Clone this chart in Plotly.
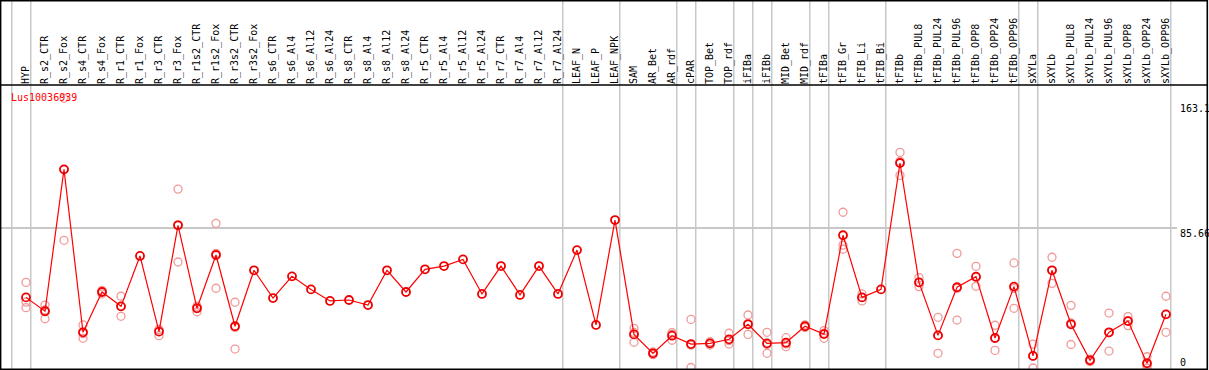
import plotly.graph_objects as go

categories = ["HYP", "R_s2_CTR", "R_s2_Fox", "R_s4_CTR", "R_s4_Fox", "R_r1_CTR", "R_r1_Fox",
              "R_r3_CTR", "R_r3_Fox", "R_r1s2_CTR", "R_r1s2_Fox", "R_r3s2_CTR", "R_r3s2_Fox",
              "R_s6_CTR", "R_s6_Al4", "R_s6_Al12", "R_s6_Al24", "R_s8_CTR", "R_s8_Al4", "R_s8_Al12",
              "R_s8_Al24", "R_r5_CTR", "R_r5_Al4", "R_r5_Al12", "R_r5_Al24", "R_r7_CTR", "R_r7_Al4",
              "R_r7_Al12", "R_r7_Al24", "LEAF_N", "LEAF_P", "LEAF_NPK", "SAM", "AR_Bet", "AR_rdf",
              "cPAR", "TOP_Bet", "TOP_rdf", "iFIBa", "iFIBb", "MID_Bet", "MID_rdf", "tFIBa",
              "tFIB_Gr", "tFIB_Li", "tFIB_Bi", "tFIBb", "tFIBb_PUL8", "tFIBb_PUL24", "tFIBb_PUL96",
              "tFIBb_OPP8", "tFIBb_OPP24", "tFIBb_OPP96", "sXYLa", "sXYLb", "sXYLb_PUL8",
              "sXYLb_PUL24", "sXYLb_PUL96", "sXYLb_OPP8", "sXYLb_OPP24", "sXYLb_OPP96"]

means = [43.3, 34.8, 121.8, 21.9, 46.6, 37.8, 68.7, 22.3, 87.5, 36.6, 69.3, 25.6, 59.9,
         42.9, 56.2, 48.2, 41.1, 41.7, 38.6, 59.9, 46.6, 60.5, 62.5, 66.6, 45.4, 62.5, 44.8,
         62.5, 45.4, 72.3, 26.4, 90.7, 20.6, 9.0, 19.8, 14.7, 15.1, 17.6, 26.8, 15.1, 15.5,
         25.6, 20.8, 81.4, 43.3, 48.2, 125.7, 52.5, 20.0, 49.5, 56.0, 18.4, 49.9, 7.4, 59.9,
         26.8, 4.7, 21.9, 28.8, 2.9, 32.9]

replicates = [
    [52.5, 40.4, 37.0], [38.6, 35.6, 30.2], [165.4, 121.7, 78.3], [26.4, 21.1, 18.2],
    [47.6, 46.8, 45.4], [44.0, 37.7, 31.7], [], [23.6, 23.5, 19.8], [109.7, 87.8, 65.0],
    [38.0, 37.3, 34.5], [88.7, 70.3, 48.9], [40.3, 24.9, 11.6],
    [], [], [], [], [], [], [], [], [], [], [], [], [], [], [], [], [], [], [], [],
    [24.3, 21.8, 15.8], [9.8, 9.0, 8.2], [21.7, 20.7, 17.0], [29.8, 14.0, 0.3],
    [16.1, 15.1, 14.1], [21.3, 16.8, 14.7], [32.5, 27.3, 20.6], [21.9, 14.4, 9.0],
    [18.6, 14.8, 13.1], [26.4, 25.6, 24.8], [22.9, 21.3, 18.2], [95.5, 75.4, 72.8],
    [45.4, 43.3, 41.1], [], [132.2, 126.8, 118.1], [55.4, 52.3, 49.9], [31.1, 20.0, 9.0],
    [70.3, 48.8, 29.4], [62.3, 55.6, 50.1], [26.2, 18.2, 10.8], [64.4, 48.7, 36.6],
    [14.7, 7.5, 0.0], [67.9, 59.9, 51.9], [38.4, 27.6, 14.4], [5.5, 4.7, 3.9],
    [33.7, 21.6, 10.4], [31.5, 28.9, 26.0], [6.9, 1.8, 0.0], [44.0, 32.8, 21.9]]

# group separators drawn after these category indices
separators_after = [-1, 0, 28, 31, 34, 35, 37, 38, 39, 41, 42, 45, 52, 53, 60]

y_labels = [163.1, 85.66, 0]
y_label_text = ["163.1", "85.66", "0"]
title = "Lus10036939"

W, H = 1209, 370
FONT = "DejaVu Sans Mono"
x = list(range(len(categories)))

rep_x, rep_y = [], []
for i, reps in enumerate(replicates):
    for v in reps:
        rep_x.append(i)
        rep_y.append(v)

fig = go.Figure()
fig.add_trace(go.Scatter(x=rep_x, y=rep_y, mode="markers",
                         marker=dict(symbol="circle-open", size=8, color="#f09a9a",
                                     line=dict(width=1.3, color="#f09a9a")),
                         hoverinfo="skip", showlegend=False, cliponaxis=False))
fig.add_trace(go.Scatter(x=x, y=means, mode="lines+markers",
                         line=dict(color="#ff0000", width=1.2),
                         marker=dict(symbol="circle-open", size=8, color="#ee0000",
                                     line=dict(width=1.8, color="#ee0000")),
                         showlegend=False, cliponaxis=False))

# geometry
x_dom_px = 1177
step = 19.0
first_px = 26.0
xr0 = -first_px / step
xr1 = xr0 + x_dom_px / step
plot_top = 85
dom_h = H - plot_top
zero_px_from_bottom = 2
top_px_from_bottom = H - 102
span = 163.1 * dom_h / (top_px_from_bottom - zero_px_from_bottom)
yr0 = -zero_px_from_bottom * span / dom_h
yr1 = yr0 + span

fig.update_layout(
    width=W, height=H, margin=dict(l=0, r=0, t=0, b=0),
    paper_bgcolor="white", plot_bgcolor="white",
    xaxis=dict(domain=[0, x_dom_px / W], range=[xr0, xr1], side="top",
               tickmode="array", tickvals=x, ticktext=categories, tickangle=-90,
               ticks="", ticklen=0, showgrid=False, zeroline=False, showline=False,
               tickfont=dict(family=FONT, size=10, color="black")),
    yaxis=dict(domain=[0, dom_h / H], range=[yr0, yr1], tickmode="array",
               tickvals=[85.66], showticklabels=False, ticks="", showgrid=True,
               gridcolor="#c8c8c8", gridwidth=1.5, zeroline=False, showline=False),
)

shapes = []
for s in separators_after:
    shapes.append(dict(type="line", xref="x", yref="paper", x0=s + 0.25, x1=s + 0.25,
                       y0=0, y1=1, line=dict(color="#c8c8c8", width=1.5), layer="below"))
shapes.append(dict(type="line", xref="paper", yref="paper", x0=0, x1=1207.5 / W,
                   y0=1 - plot_top / H, y1=1 - plot_top / H,
                   line=dict(color="black", width=1.5)))
shapes.append(dict(type="rect", xref="paper", yref="paper", x0=0.6 / W, x1=1207.3 / W,
                   y0=0.8 / H, y1=1 - 0.6 / H, line=dict(color="black", width=1.6)))
fig.update_layout(shapes=shapes)

ann = [dict(text=title, xref="paper", yref="paper", x=9 / W, y=1 - 97 / H,
            xanchor="left", yanchor="middle", showarrow=False,
            font=dict(family=FONT, size=10, color="#ff0000"))]
shifts = [-6, -5, 6]
for v, t, sh in zip(y_labels, y_label_text, shifts):
    ann.append(dict(text=t, xref="paper", yref="y", x=1178 / W, y=v, yshift=sh,
                    xanchor="left", yanchor="middle", showarrow=False,
                    font=dict(family=FONT, size=10, color="black")))
fig.update_layout(annotations=ann)

fig.write_html("out.html", config={"displayModeBar": False},
               post_script="document.body.style.margin='0';document.body.style.overflow='hidden';")
